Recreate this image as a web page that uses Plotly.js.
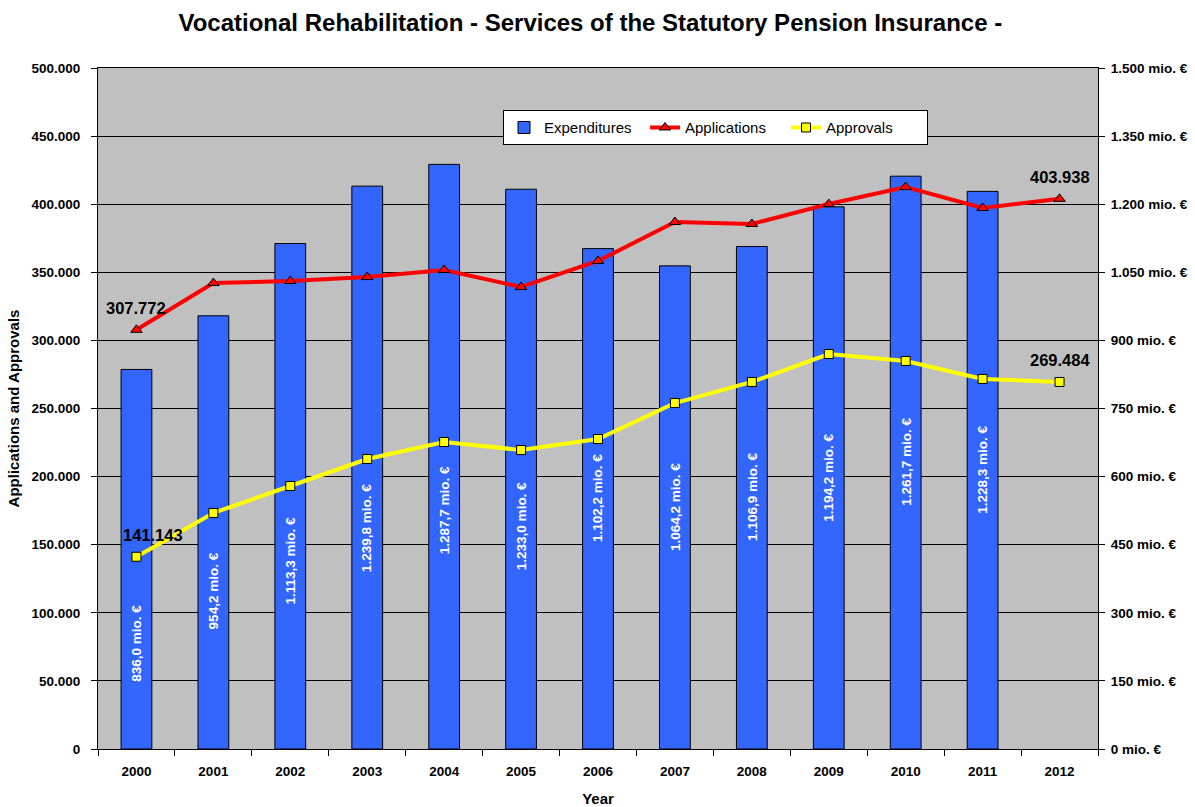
<!DOCTYPE html>
<html>
<head>
<meta charset="utf-8">
<script src="https://cdn.plot.ly/plotly-3.0.1.min.js"></script>
<style>html,body{margin:0;padding:0;background:#fff;}#chart{width:1195px;height:807px;}</style>
</head>
<body>
<div id="chart"></div>
<script>
// ---- data ----
const years = ["2000","2001","2002","2003","2004","2005","2006","2007","2008","2009","2010","2011","2012"];
const expenditures = [836.0, 954.2, 1113.3, 1239.8, 1287.7, 1233.0, 1102.2, 1064.2, 1106.9, 1194.2, 1261.7, 1228.3, null];
const applications = [307772, 342100, 343600, 346500, 351700, 339200, 358300, 386900, 385500, 400100, 412600, 397200, 403938];
const approvals = [141143, 173300, 193100, 212900, 225400, 219500, 227600, 254000, 269500, 290000, 284900, 271700, 269484];

// label placement (in mio. € units) for the rotated bar labels
const barLabelPos = [233, 348, 416, 487, 526, 491, 553, 533, 555, 597, 632, 614];

function thousands(s){ return s.replace(/\B(?=(\d{3})+(?!\d))/g, "."); }
function fmtInt(v){ return thousands(String(Math.round(v))); }
function fmtMio(v){ const p = v.toFixed(1).split("."); return thousands(p[0]) + "," + p[1] + " mio. €"; }

const FONT = "Liberation Sans, Arial, sans-serif";

const traces = [
  {
    type: "bar", name: "Expenditures", x: years, y: expenditures, yaxis: "y",
    width: 0.4,
    marker: {color: "#3366FF", line: {color: "#000", width: 1}},
    hoverinfo: "skip"
  },
  {
    type: "scatter", mode: "lines+markers", name: "Applications", x: years, y: applications, yaxis: "y2",
    line: {color: "#FF0000", width: 4},
    marker: {symbol: "triangle-up", size: 10, color: "#FF0000", line: {color: "#000", width: 1}}
  },
  {
    type: "scatter", mode: "lines+markers", name: "Approvals", x: years, y: approvals, yaxis: "y2",
    line: {color: "#FFFF00", width: 4},
    marker: {symbol: "square", size: 9, color: "#FFFF00", line: {color: "#000", width: 1}}
  }
];

const annotations = [];
expenditures.forEach((v, i) => {
  if (v == null) return;
  annotations.push({
    x: i, y: barLabelPos[i], xref: "x", yref: "y",
    text: fmtMio(v), textangle: -90, showarrow: false,
    font: {family: FONT, size: 13.5, color: "#fff", weight: "bold"}
  });
});
const last = years.length - 1;
[[0, applications, 0], [last, applications, 0], [0, approvals, 17], [last, approvals, 0]].forEach(([i, arr, dx]) => {
  annotations.push({
    x: i, y: arr[i], xref: "x", yref: "y2",
    text: fmtInt(arr[i]), showarrow: false, yshift: 22, xshift: dx,
    font: {family: FONT, size: 16.5, color: "#000", weight: "bold"}
  });
});

const layout = {
  width: 1195, height: 807,
  margin: {l: 98, r: 97, t: 68, b: 58},
  paper_bgcolor: "#fff", plot_bgcolor: "#C0C0C0",
  separators: ",.",
  font: {family: FONT, color: "#000"},
  title: {text: "Vocational Rehabilitation - Services of the Statutory Pension Insurance -",
          font: {family: FONT, size: 24, weight: "bold", color: "#000"}, x: 0.494, xanchor: "center", y: 0.972, yanchor: "middle"},
  showlegend: true,
  legend: {orientation: "h", x: 0.405, y: 0.938, xanchor: "left", yanchor: "top",
           bgcolor: "#fff", bordercolor: "#000", borderwidth: 1, entrywidth: 96,
           font: {family: FONT, size: 15, color: "#000"}, traceorder: "normal", valign: "middle"},
  xaxis: {
    type: "category", range: [-0.5, 12.5], autorange: false,
    showgrid: false, showline: true, linecolor: "#000", linewidth: 1, mirror: true,
    ticks: "outside", tickson: "boundaries", ticklen: 6, tickcolor: "#000", ticklabelstandoff: 10,
    tickfont: {family: FONT, size: 13.5, weight: "bold"}, tickangle: 0,
    title: {text: "Year", font: {family: FONT, size: 15, weight: "bold"}, standoff: 18},
    automargin: false
  },
  yaxis: {
    side: "right", range: [0, 1500], autorange: false, dtick: 150, tickformat: ",d", ticksuffix: " mio. €",
    showgrid: true, gridcolor: "#000", gridwidth: 1, zeroline: false,
    showline: true, linecolor: "#000", linewidth: 1,
    ticks: "outside", ticklen: 6, tickcolor: "#000", ticklabelstandoff: 3,
    tickfont: {family: FONT, size: 13.5, weight: "bold"}, automargin: false
  },
  yaxis2: {
    side: "left", overlaying: "y", range: [0, 500000], autorange: false, dtick: 50000, tickformat: ",d",
    showgrid: false, zeroline: false, showline: true, linecolor: "#000", linewidth: 1,
    ticks: "outside", ticklen: 6, tickcolor: "#000", ticklabelstandoff: 8,
    tickfont: {family: FONT, size: 13.5, weight: "bold"},
    title: {text: "Applications and Approvals", font: {family: FONT, size: 15, weight: "bold"}, standoff: 8},
    automargin: false
  },
  annotations: annotations
};

Plotly.newPlot("chart", traces, layout, {displayModeBar: false, staticPlot: true});
</script>
</body>
</html>
